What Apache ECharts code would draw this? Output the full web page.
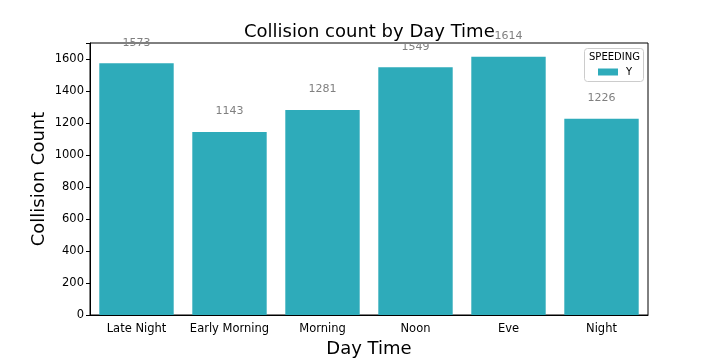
<!DOCTYPE html>
<html><head><meta charset="utf-8">
<script src="https://cdn.jsdelivr.net/npm/echarts@6/dist/echarts.min.js"></script>
<style>html,body{margin:0;padding:0;background:#fff}#c{width:720px;height:360px}</style>
</head><body><div id="c"></div>
<script>
const categories = ['Late Night', 'Early Morning', 'Morning', 'Noon', 'Eve', 'Night'];
const counts = [1573, 1143, 1281, 1549, 1614, 1226];
const seriesName = 'Y';
const yTicks = [0, 200, 400, 600, 800, 1000, 1200, 1400, 1600];

const F = 'DejaVu Sans';
const chart = echarts.init(document.getElementById('c'), null, {renderer: 'canvas'});
chart.setOption({
  animation: false,
  textStyle: {fontFamily: F},
  title: {text: 'Collision count by Day Time', left: 239, top: 18,
    textStyle: {fontFamily: F, fontSize: 18, fontWeight: 'normal', color: '#000'}},
  grid: {left: 90, right: 72, top: 43, bottom: 45, containLabel: false, outerBoundsMode: 'none',
    show: true, borderColor: '#000', borderWidth: 1},
  legend: {
    show: true, left: 593, top: 62, itemWidth: 20, itemHeight: 7, itemGap: 4,
    data: [seriesName], icon: 'rect',
    textStyle: {fontFamily: F, fontSize: 10, color: '#000', padding: [0, 0, 0, 3]}
  },
  graphic: [
    {type: 'rect', left: 584, top: 48, shape: {width: 59, height: 33, r: 3}, style: {fill: 'rgba(255,255,255,0.8)', stroke: '#ccc', lineWidth: 1}, z: 1},
    {type: 'text', left: 589, top: 52, style: {text: 'SPEEDING', font: '10px "DejaVu Sans"', fill: '#000'}, z: 2}
  ],
  xAxis: {
    type: 'category', data: categories,
    name: 'Day Time', nameLocation: 'middle', nameGap: 24,
    nameTextStyle: {fontFamily: F, fontSize: 18, color: '#000'},
    axisLine: {lineStyle: {color: '#000'}},
    axisTick: {alignWithLabel: true, length: 4, lineStyle: {color: '#000'}},
    axisLabel: {fontFamily: F, fontSize: 11.5, color: '#000', margin: 8, interval: 0}
  },
  yAxis: {
    type: 'value', min: 0, max: 1700, interval: 200,
    name: 'Collision Count', nameLocation: 'middle', nameGap: 42, nameMoveOverlap: false,
    nameTextStyle: {fontFamily: F, fontSize: 18, color: '#000'},
    axisLine: {show: true, lineStyle: {color: '#000'}},
    axisTick: {show: true, length: 4, lineStyle: {color: '#000'}},
    splitLine: {show: false},
    axisLabel: {fontFamily: F, fontSize: 11.5, color: '#000', margin: 6,
      formatter: v => yTicks.includes(v) ? String(v) : ''}
  },
  series: [{
    name: seriesName, type: 'bar', data: counts, barCategoryGap: '20%',
    itemStyle: {color: '#2eabba'},
    label: {show: true, position: 'top', distance: 15, color: '#808080', fontFamily: F, fontSize: 11}
  }]
});
</script></body></html>
